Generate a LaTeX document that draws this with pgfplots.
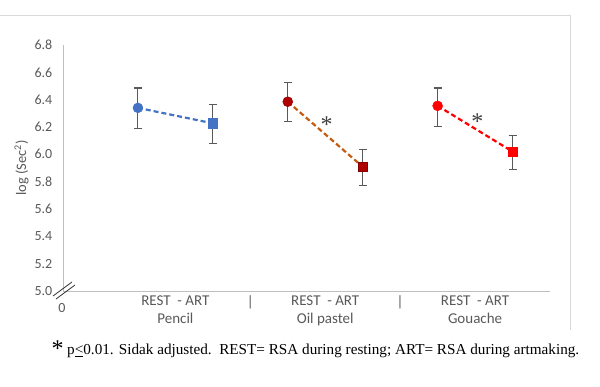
\documentclass[border=0pt]{standalone}
\usepackage{pgfplots}
\pgfplotsset{compat=1.18}
\usepackage{pgfplotstable}
\usepackage{fontspec}
\setmainfont{Carlito}
\newfontfamily\serif{Liberation Serif}
\definecolor{txt}{HTML}{595959}
\definecolor{axl}{HTML}{BFBFBF}
\definecolor{frame}{HTML}{D9D9D9}
\definecolor{pencil}{HTML}{4472C4}
\definecolor{oilm}{HTML}{B00000}
\definecolor{oill}{HTML}{C55A11}
\definecolor{gou}{HTML}{FF0000}
\definecolor{errc}{HTML}{595959}
\pgfplotstableread{
x y ep em
1 6.34 0.145 0.150
2 6.227 0.140 0.145
}\pencil
\pgfplotstableread{
x y ep em
3 6.385 0.142 0.145
4 5.909 0.125 0.135
}\oil
\pgfplotstableread{
x y ep em
5 6.355 0.130 0.150
6 6.020 0.120 0.130
}\gouache
\begin{document}
\begin{tikzpicture}
\path[use as bounding box] (0,0) rectangle (600pt,387pt);
% chart frame
\draw[frame,line width=1pt] (0pt,371.5pt) -- (570pt,371.5pt) -- (570pt,57pt);
\begin{axis}[
  at={(63pt,96pt)}, anchor=south west,
  scale only axis, width=487pt, height=246pt,
  xmin=0, xmax=6.5, ymin=5.0, ymax=6.8,
  axis x line=bottom, axis y line=left,
  axis line style={axl,line width=0.8pt,-},
  ytick={5.0,5.2,...,6.81},
  /pgf/number format/fixed,
  /pgf/number format/fixed zerofill,
  /pgf/number format/precision=1,
  /pgf/number format/assume math mode=true,
  yticklabel style={txt,font=\fontsize{14}{15}\selectfont,xshift=-5pt},
  ytick style={draw=none}, xtick style={draw=none},
  xtick={1.5,2.5,3.5,4.5,5.5},
  xticklabels={REST\ \ - ART\\Pencil, |\\\phantom{P}, REST\ \ - ART\\Oil pastel, |\\\phantom{P}, REST\ \ - ART\\Gouache},
  xticklabel style={txt,font=\fontsize{15}{18.5}\selectfont,align=center,yshift=1pt},
  ylabel={log (Sec\textsuperscript{2})},
  ylabel style={txt,font=\fontsize{14.5}{15}\selectfont,yshift=-1pt},
  clip=false,
  error bars/error bar style={errc,line width=1.1pt,solid},
  error bars/error mark options={errc,line width=1.1pt,mark size=4pt,rotate=90},
]
\addplot[pencil,line width=2.2pt,dash pattern=on 5pt off 3pt,
  error bars/.cd,y dir=both,y explicit] table[x=x,y=y,y error plus=ep,y error minus=em]{\pencil};
\addplot[oill,line width=2.2pt,dash pattern=on 5pt off 3pt,
  error bars/.cd,y dir=both,y explicit] table[x=x,y=y,y error plus=ep,y error minus=em]{\oil};
\addplot[gou,line width=2.2pt,dash pattern=on 5pt off 3pt,
  error bars/.cd,y dir=both,y explicit] table[x=x,y=y,y error plus=ep,y error minus=em]{\gouache};
% markers
\addplot[only marks,mark=*,mark size=5pt,draw=pencil,fill=pencil] table[x=x,y=y]{
x y
1 6.34
};
\addplot[only marks,mark=square*,mark size=4.7pt,draw=pencil,fill=pencil] table[x=x,y=y]{
x y
2 6.227
};
\addplot[only marks,mark=*,mark size=5pt,draw=oilm!75!black,fill=oilm] table[x=x,y=y]{
x y
3 6.385
};
\addplot[only marks,mark=square*,mark size=4.7pt,draw=oilm!75!black,fill=oilm] table[x=x,y=y]{
x y
4 5.909
};
\addplot[only marks,mark=*,mark size=5pt,draw=gou,fill=gou] table[x=x,y=y]{
x y
5 6.355
};
\addplot[only marks,mark=square*,mark size=4.7pt,draw=gou,fill=gou] table[x=x,y=y]{
x y
6 6.020
};
\node[text=black!75,font=\serif\fontsize{24}{24}\selectfont,inner sep=0pt] at (axis cs:3.52,6.215) {*};
\node[text=black!75,font=\serif\fontsize{24}{24}\selectfont,inner sep=0pt] at (axis cs:5.53,6.24) {*};
\end{axis}
% axis break
\draw[black!80,line width=0.8pt] (53pt,91pt) -- (72pt,105pt);
\draw[black!80,line width=0.8pt] (56pt,88pt) -- (75pt,102pt);
\node[txt,font=\fontsize{14}{15}\selectfont] at (62pt,79pt) {0};
% footnote
\node[anchor=base west,font=\serif\fontsize{15.2}{16}\selectfont,inner sep=0pt] at (67pt,32pt) {p\underline{<}0.01. Sidak adjusted.\ \ REST= RSA during resting; ART= RSA during artmaking.};
\node[anchor=center,font=\serif\fontsize{24}{24}\selectfont,inner sep=0pt] at (57.5pt,38pt) {*};
\end{tikzpicture}
\end{document}
